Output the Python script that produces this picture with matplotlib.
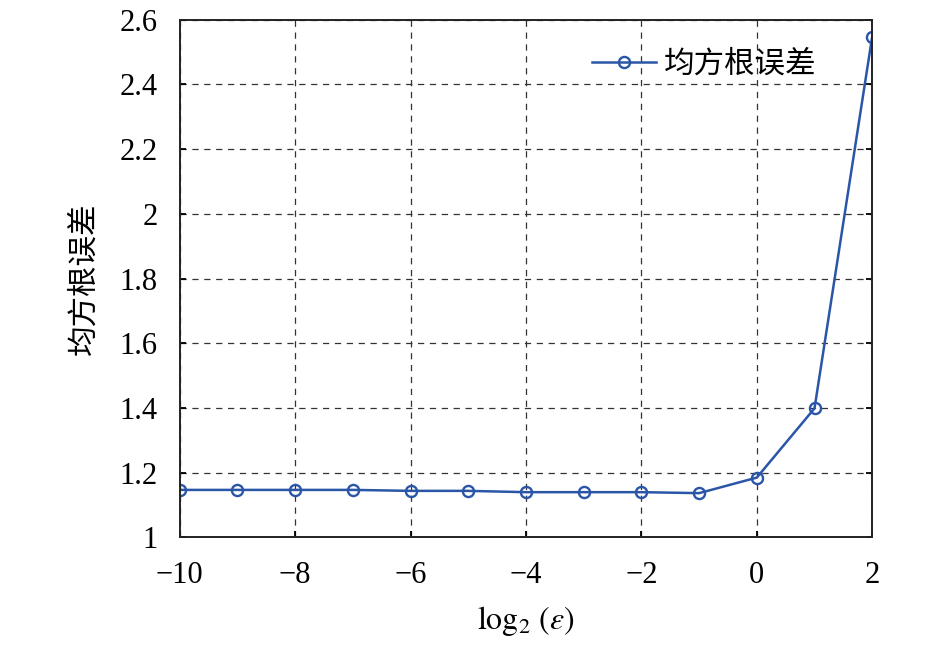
import matplotlib
matplotlib.use("Agg")
import matplotlib.pyplot as plt

x_vals = [-10, -9, -8, -7, -6, -5, -4, -3, -2, -1, 0, 1, 2]
rmse = [1.147, 1.147, 1.147, 1.147, 1.144, 1.144, 1.140, 1.140, 1.140, 1.137, 1.185, 1.399, 2.548]
x_ticks = [-10, -8, -6, -4, -2, 0, 2]
y_ticks = [1, 1.2, 1.4, 1.6, 1.8, 2, 2.2, 2.4, 2.6]
y_ticklabels = ["1", "1.2", "1.4", "1.6", "1.8", "2", "2.2", "2.4", "2.6"]
x_ticklabels = ["\u221210", "\u22128", "\u22126", "\u22124", "\u22122", "0", "2"]
series_label = "均方根误差"

plt.rcParams["mathtext.fontset"] = "stix"
serif = ["Liberation Serif", "DejaVu Serif"]
cjk = ["Noto Sans CJK SC", "DejaVu Sans"]

fig = plt.figure(figsize=(9.46, 6.46), dpi=100)
ax = fig.add_axes([0.190, 0.168, 0.732, 0.8015])
color = "#2b56a8"
ax.plot(x_vals, rmse, "-o", color=color, lw=1.8, markersize=8,
        markerfacecolor="none", markeredgewidth=1.7, label=series_label)
ax.set_xlim(-10, 2)
ax.set_ylim(1, 2.6)
ax.set_xticks(x_ticks)
ax.set_xticklabels(x_ticklabels, fontfamily=serif, fontsize=22)
ax.set_yticks(y_ticks)
ax.set_yticklabels(y_ticklabels, fontfamily=serif, fontsize=22)
ax.grid(True, color="#333333", linestyle=(0, (5, 4.5)), lw=0.9)
ax.tick_params(direction="in", top=False, right=True, length=4, width=1.3)
ax.tick_params(axis="y", pad=16)
ax.tick_params(axis="x", pad=17)
for s in ax.spines.values():
    s.set_linewidth(1.4)
    s.set_color("#222222")
ax.set_xlabel(r"$\mathrm{log}_2\ (\varepsilon)$", fontsize=23, labelpad=10)
ax.set_ylabel(series_label, fontfamily=cjk, fontsize=22, labelpad=14)
leg = ax.legend(loc="upper right", frameon=False, prop={"family": cjk, "size": 22},
                handlelength=2.1, handletextpad=0.25, borderaxespad=0.0,
                bbox_to_anchor=(0.937, 0.967))
fig.savefig("out.png", dpi=100)
